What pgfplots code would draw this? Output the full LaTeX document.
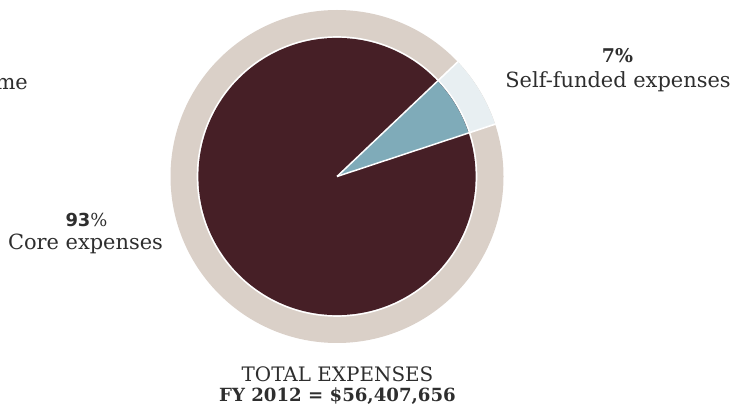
\documentclass[border=0pt]{standalone}
\usepackage{fontspec}
\setmainfont{DejaVu Serif}
\setsansfont{DejaVu Sans}
\usepackage{pgfplots}
\pgfplotsset{compat=1.18}
\definecolor{ringtan}{HTML}{DAD0C8}
\definecolor{ringlight}{HTML}{E8EFF2}
\definecolor{maroon}{HTML}{461F26}
\definecolor{teal}{HTML}{7FABB9}
\definecolor{txt}{HTML}{2E2E2E}
% data: share of total expenses (percent)
\def\valCore{93}
\def\valSelf{7}
\begin{document}
\begin{tikzpicture}
\begin{axis}[
  width=734bp, height=406bp, scale only axis,
  xmin=0, xmax=734, ymin=0, ymax=406,
  hide axis, clip=false,
]
\pgfmathsetmacro{\aStart}{18.3}
\pgfmathsetmacro{\aEnd}{\aStart+\valSelf*3.6}
\def\cx{337}
\def\cy{229.5}
% outer ring
\fill[ringtan] (axis cs:\cx,\cy) circle[radius=166.5bp];
\fill[ringlight] (axis cs:\cx,\cy) -- ++(\aStart:166.5bp) arc[start angle=\aStart, end angle=\aEnd, radius=166.5bp] -- cycle;
\draw[white, line width=1.6bp] (axis cs:\cx,\cy) -- ++(\aStart:167bp);
\draw[white, line width=1.6bp] (axis cs:\cx,\cy) -- ++(\aEnd:167bp);
% gap
\fill[white] (axis cs:\cx,\cy) circle[radius=140.3bp];
% inner pie
\fill[maroon] (axis cs:\cx,\cy) circle[radius=138.6bp];
\fill[teal] (axis cs:\cx,\cy) -- ++(\aStart:138.6bp) arc[start angle=\aStart, end angle=\aEnd, radius=138.6bp] -- cycle;
\draw[white, line width=1.5bp] (axis cs:\cx,\cy) -- ++(\aStart:139bp);
\draw[white, line width=1.5bp] (axis cs:\cx,\cy) -- ++(\aEnd:139bp);
% labels
\begin{scope}[every node/.style={text=txt, inner sep=0pt, font=\fontsize{21}{25}\selectfont}]
\node[anchor=base east] at (axis cs:28,316) {me};
\node[anchor=base, font=\fontsize{19}{22}\selectfont] at (axis cs:617.5,343) {\textbf{\valSelf\%}};
\node[anchor=base] at (axis cs:618,318.5) {Self-funded expenses};
\node[anchor=base, font=\fontsize{18}{21}\selectfont] at (axis cs:86.5,179) {{\sffamily\bfseries \valCore}\%};
\node[anchor=base] at (axis cs:85.5,156) {Core expenses};
\node[anchor=base, font=\fontsize{20}{24}\selectfont] at (axis cs:337.5,25) {TOTAL EXPENSES};
\node[anchor=base, font=\fontsize{18.2}{22}\selectfont] at (axis cs:337.5,4.5) {\textbf{FY 2012 = \$56,407,656}};
\end{scope}
\end{axis}
\pgfresetboundingbox
\path (0,0) rectangle (734bp,406bp);
\end{tikzpicture}
\end{document}
